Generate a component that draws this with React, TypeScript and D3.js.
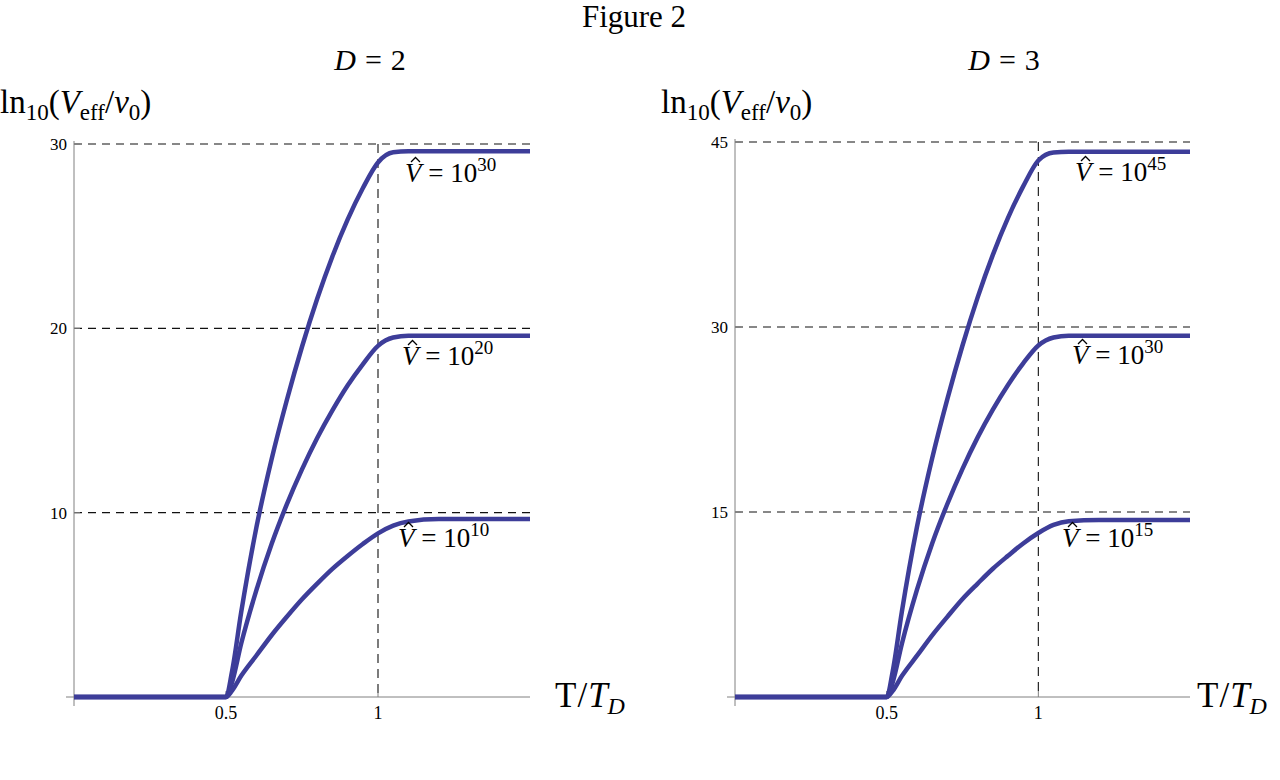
import React from "react";
import * as d3 from "d3";

// x grid (T/T_D) shared by all curves
const xGrid = [0, 0.5, 0.52, 0.55, 0.6, 0.65, 0.7, 0.75, 0.8, 0.85, 0.9, 0.95, 1.0, 1.05, 1.1, 1.2, 1.5];

// D = 2 panel
const d2Top = [0, 0, 1.4, 4.6, 9.2, 12.9, 16.1, 19.0, 21.6, 23.9, 25.9, 27.6, 29.0, 29.55, 29.6, 29.6, 29.6];
const d2Mid = [0, 0, 0.8, 2.9, 5.8, 8.3, 10.45, 12.35, 14.05, 15.55, 16.9, 18.05, 19.05, 19.5, 19.6, 19.6, 19.6];
const d2Bot = [0, 0, 0.35, 1.15, 2.25, 3.35, 4.35, 5.3, 6.15, 6.95, 7.65, 8.3, 8.88, 9.3, 9.52, 9.65, 9.65];
const d2Ticks = [10, 20, 30];
const d2Exps = ["30", "20", "10"];

// D = 3 panel
const d3Top = [0, 0, 2.1, 6.9, 13.8, 19.35, 24.15, 28.5, 32.4, 35.85, 38.85, 41.4, 43.5, 44.15, 44.2, 44.2, 44.2];
const d3Mid = [0, 0, 1.2, 4.3, 8.7, 12.45, 15.65, 18.5, 21.05, 23.3, 25.3, 27.05, 28.5, 29.15, 29.3, 29.3, 29.3];
const d3Bot = [0, 0, 0.5, 1.7, 3.35, 5.0, 6.5, 7.95, 9.2, 10.4, 11.45, 12.45, 13.3, 13.95, 14.25, 14.35, 14.35];
const d3Ticks = [15, 30, 45];
const d3Exps = ["45", "30", "15"];

const xTicks = [0.5, 1];
const xTickLabels = ["0.5", "1"];

const FONT = "'Liberation Serif', 'Times New Roman', serif";
const CURVE = "#3d3d99";
const AXIS = "#808080";

type PanelProps = {
  left: number;
  right: number;
  yMax: number;
  yTopPx: number;
  series: number[][];
  ticks: number[];
  exps: string[];
  title: string;
  titleX: number;
  labelPos: [number, number][];
  yLabelX: number;
  xLabelX: number;
};

function Panel(p: PanelProps) {
  const x = d3.scaleLinear().domain([0, 1.5]).range([p.left, p.right]);
  const y = d3.scaleLinear().domain([0, p.yMax]).range([697, p.yTopPx]);
  const line = d3
    .line<number>()
    .x((_, i) => x(xGrid[i]))
    .y((v) => y(v))
    .curve(d3.curveMonotoneX);
  const x0 = x(0);
  const y0 = y(0);
  const yTop = y(p.yMax);
  return (
    <g>
      {/* title */}
      <text x={p.titleX} y={70} fontSize={30} fontFamily={FONT} textAnchor="middle">
        <tspan fontStyle="italic">D</tspan>
        <tspan dx={9}>=</tspan>
        <tspan dx={9}>{p.title}</tspan>
      </text>
      {/* y label */}
      <text x={p.yLabelX} y={113} fontSize={33} fontFamily={FONT}>
        ln
        <tspan fontSize={23} dy={7}>10</tspan>
        <tspan dy={-7}>(</tspan>
        <tspan fontStyle="italic">V</tspan>
        <tspan fontSize={23} dy={7}>eff</tspan>
        <tspan dy={-7}>/</tspan>
        <tspan fontStyle="italic">v</tspan>
        <tspan fontSize={23} dy={7}>0</tspan>
        <tspan dy={-7}>)</tspan>
      </text>
      {/* gridlines */}
      {p.ticks.map((t) => (
        <line key={"g" + t} x1={x0} x2={p.right} y1={y(t)} y2={y(t)} stroke="#111" strokeWidth={1.1} strokeDasharray="8 6" />
      ))}
      <line x1={x(1)} x2={x(1)} y1={yTop} y2={y0} stroke="#111" strokeWidth={1.1} strokeDasharray="9 6" />
      {/* axes */}
      <line x1={x0} x2={x0} y1={yTop - 3} y2={y0 + 9} stroke={AXIS} strokeWidth={1} />
      <line x1={x0 - 8} x2={p.right} y1={y0} y2={y0} stroke={AXIS} strokeWidth={1} />
      {p.ticks.map((t) => (
        <g key={"t" + t}>
          <line x1={x0} x2={x0 + 6} y1={y(t)} y2={y(t)} stroke={AXIS} strokeWidth={1} />
          <text x={x0 - 7} y={y(t) + 6} fontSize={17} fontFamily={FONT} textAnchor="end">
            {t}
          </text>
        </g>
      ))}
      {xTicks.map((t, i) => (
        <g key={"x" + t}>
          <line x1={x(t)} x2={x(t)} y1={y0} y2={y0 - 6} stroke={AXIS} strokeWidth={1} />
          <text x={x(t)} y={y0 + 22} fontSize={18} fontFamily={FONT} textAnchor="middle">
            {xTickLabels[i]}
          </text>
        </g>
      ))}
      {/* x label */}
      <text x={p.xLabelX} y={707} fontSize={35} fontFamily={FONT}>
        T
        <tspan dx={1}>/</tspan>
        <tspan dx={1} fontStyle="italic">T</tspan>
        <tspan fontStyle="italic" fontSize={24} dy={7}>D</tspan>
      </text>
      {/* curves */}
      {p.series.map((s, i) => (
        <path key={"c" + i} d={line(s) || ""} fill="none" stroke={CURVE} strokeWidth={4.5} strokeLinejoin="round" />
      ))}
      {/* curve labels */}
      {p.labelPos.map(([lx, ly], i) => (
        <g key={"l" + i}>
          <path
            d={`M${lx + 6},${ly - 20} L${lx + 10.5},${ly - 24.5} L${lx + 15},${ly - 20}`}
            fill="none"
            stroke="#000"
            strokeWidth={1.3}
          />
          <text x={lx} y={ly} fontSize={27} fontFamily={FONT}>
            <tspan fontStyle="italic">V</tspan>
            <tspan> = 10</tspan>
            <tspan fontSize={19} dy={-11}>{p.exps[i]}</tspan>
          </text>
        </g>
      ))}
    </g>
  );
}

export default function App() {
  return (
    <svg width={1280} height={780} style={{ display: "block", position: "absolute", left: 0, top: 0, background: "#fff" }}>
      <rect width={1280} height={780} fill="#fff" />
      <text x={634} y={27} fontSize={31} fontFamily={FONT} textAnchor="middle">
        Figure 2
      </text>
      <Panel
        left={74}
        right={530}
        yMax={30}
        yTopPx={144}
        series={[d2Top, d2Mid, d2Bot]}
        ticks={d2Ticks}
        exps={d2Exps}
        title="2"
        titleX={370}
        labelPos={[
          [405, 182],
          [402, 365],
          [398, 547],
        ]}
        yLabelX={0}
        xLabelX={555}
      />
      <Panel
        left={735}
        right={1190}
        yMax={45}
        yTopPx={142}
        series={[d3Top, d3Mid, d3Bot]}
        ticks={d3Ticks}
        exps={d3Exps}
        title="3"
        titleX={1004}
        labelPos={[
          [1075, 181],
          [1072, 364],
          [1062, 547],
        ]}
        yLabelX={661}
        xLabelX={1197}
      />
    </svg>
  );
}
